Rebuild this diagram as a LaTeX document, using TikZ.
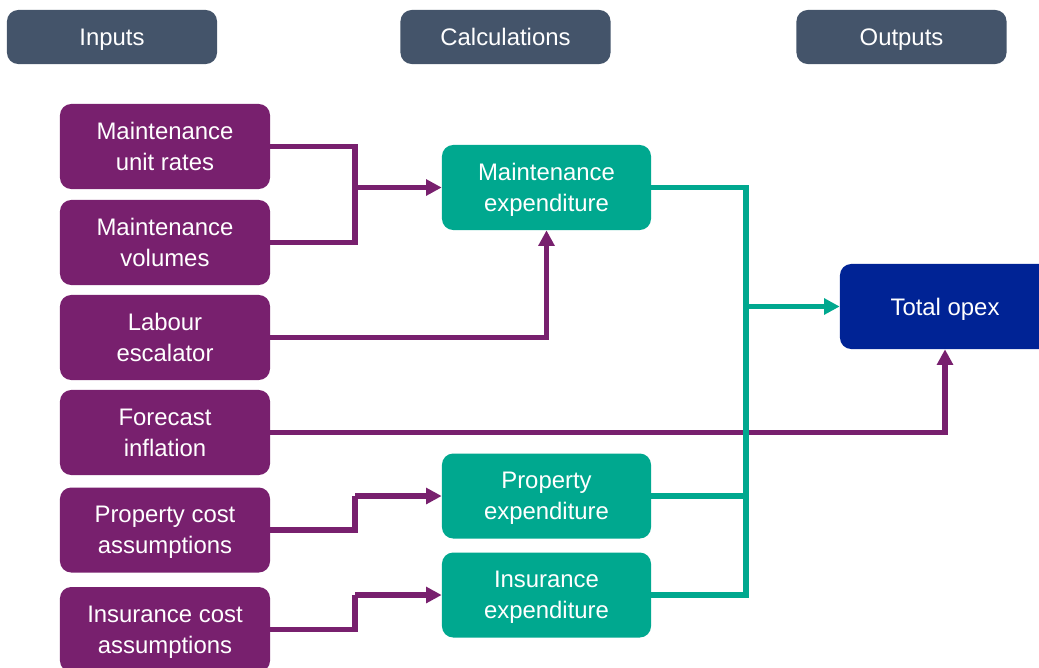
\documentclass[tikz,border=0pt]{standalone}
\usepackage{fontspec}
\setmainfont{Liberation Sans}
\usetikzlibrary{arrows.meta}
\definecolor{hdrgrey}{HTML}{44546A}
\definecolor{inpurple}{HTML}{78206E}
\definecolor{calcteal}{HTML}{00A88F}
\definecolor{outblue}{HTML}{002395}
\begin{document}
\begin{tikzpicture}[x=0.025cm,y=-0.025cm,
    box/.style={rounded corners=8pt, text=white, align=center, inner sep=0pt,
      text depth=0pt, font=\fontsize{17}{22}\selectfont,
      minimum width=5.25cm, minimum height=2.125cm},
    hdr/.style={box, fill=hdrgrey, minimum height=1.35cm},
    inbox/.style={box, fill=inpurple},
    calcbox/.style={box, fill=calcteal, minimum width=5.225cm},
    outbox/.style={box, fill=outblue},
    shade line/.style={preaction={draw=black, opacity=0.12,
      transform canvas={shift={(1.2pt,-1.5pt)}}}},
    inline/.style={draw=inpurple, line width=3.6pt, shade line},
    calcline/.style={draw=calcteal, line width=3.6pt, shade line},
    tip/.style={-{Triangle[length=11pt,width=11pt]}}]
  \useasboundingbox (0,0) rectangle (1039,667);
  \clip (0,0) rectangle (1039,667);
  % column headings
  \node[hdr] (hin) at (112,37) {Inputs};
  \node[hdr] (hcalc) at (505.5,37) {Calculations};
  \node[hdr] (hout) at (901.5,37) {Outputs};
  % inputs
  \node[inbox] (rates) at (165,146.5) {Maintenance\\unit rates};
  \node[inbox] (volumes) at (165,242.5) {Maintenance\\volumes};
  \node[inbox] (labour) at (165,337.5) {Labour\\escalator};
  \node[inbox] (inflation) at (165,432.5) {Forecast\\inflation};
  \node[inbox] (propcost) at (165,530) {Property cost\\assumptions};
  \node[inbox] (inscost) at (165,629.5) {Insurance cost\\assumptions};
  % calculations
  \node[calcbox] (mexp) at (546.5,187.5) {Maintenance\\expenditure};
  \node[calcbox] (pexp) at (546.5,496) {Property\\expenditure};
  \node[calcbox] (iexp) at (546.5,595) {Insurance\\expenditure};
  % output
  \node[outbox] (opex) at (945,306.5) {Total opex};
  % joins
  \coordinate (mj) at (355,187.5);
  \coordinate (pj) at (355,496);
  \coordinate (ij) at (355,595);
  \coordinate (tj) at (746,306.5);
  \begin{scope}[inline]
    \draw (rates.east) -| (mj);
    \draw (volumes.east) -| (mj);
    \draw[tip] (mj) -- (mexp.west);
    \draw[tip] (labour.east) -| (mexp.south);
    \draw[tip] (inflation.east) -| (opex.south);
    \draw (propcost.east) -| (pj);
    \draw[tip] (pj) -- (pexp.west);
    \draw (inscost.east) -| (ij);
    \draw[tip] (ij) -- (iexp.west);
  \end{scope}
  \begin{scope}[calcline]
    \draw (mexp.east) -| (tj);
    \draw (pexp.east) -| (tj);
    \draw (iexp.east) -| (tj);
    \draw[tip] (tj) -- (opex.west);
  \end{scope}
\end{tikzpicture}
\end{document}
